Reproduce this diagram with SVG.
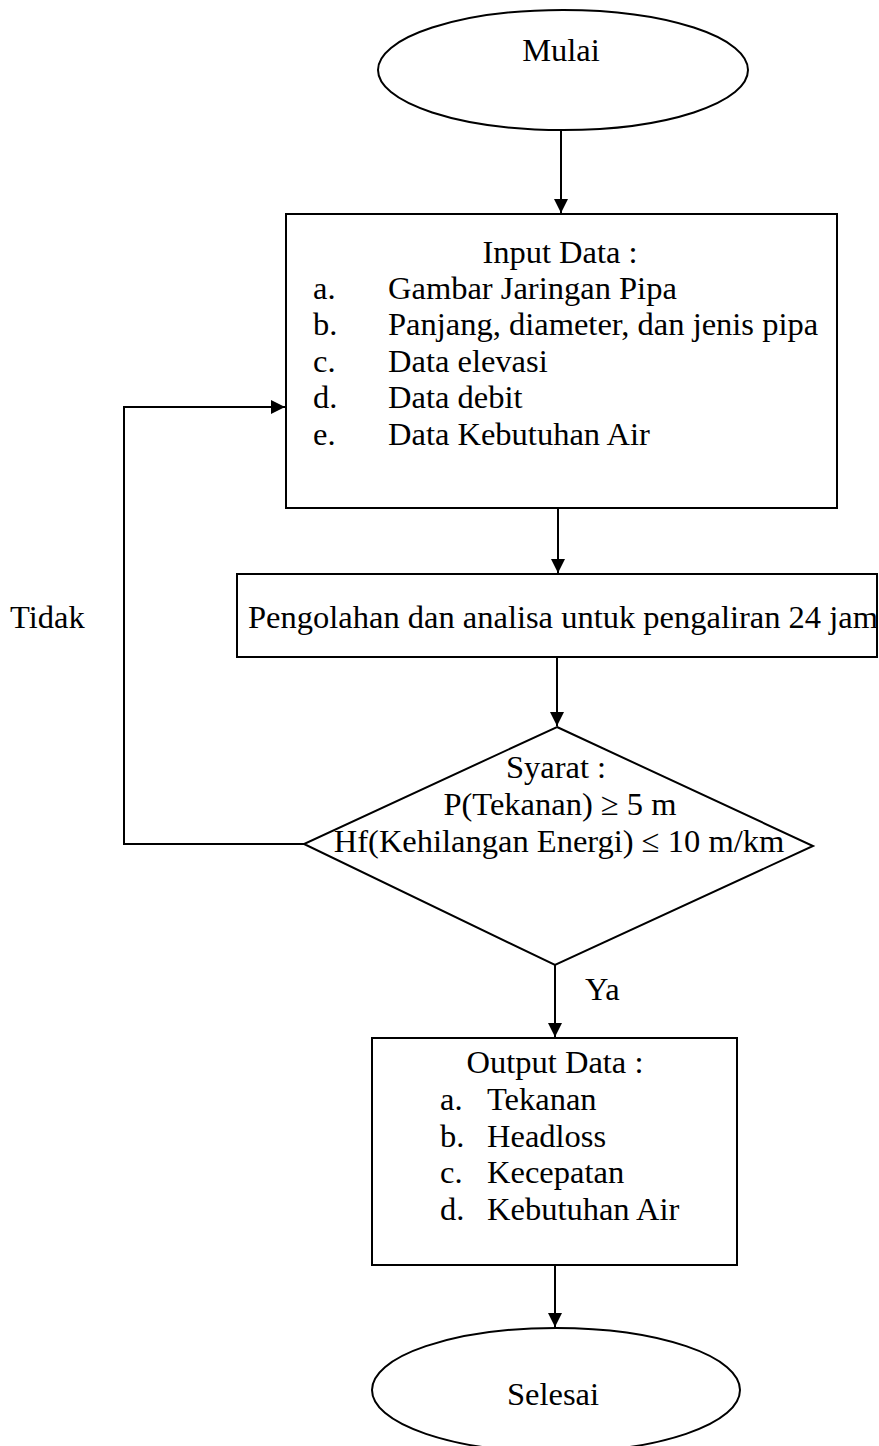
<svg xmlns="http://www.w3.org/2000/svg" width="879" height="1446" viewBox="0 0 879 1446">
  <style>
    .shape { fill: #ffffff; stroke: #000000; stroke-width: 2; }
    .line { fill: none; stroke: #000000; stroke-width: 2; }
    text { font-family: "Liberation Serif", "Times New Roman", serif; font-size: 32.5px; fill: #000000; }
    .mid { text-anchor: middle; }
  </style>
  <defs>
    <marker id="arrow" markerUnits="userSpaceOnUse" markerWidth="14" markerHeight="18" viewBox="0 0 14 18" refX="14" refY="7" orient="auto">
      <path d="M0,0 L14,7 L0,14 Z" fill="#000000"/>
    </marker>
  </defs>
  <rect width="879" height="1446" fill="#ffffff"/>

  <!-- connectors -->
  <g id="connectors">
    <line class="line" x1="561" y1="130" x2="561" y2="213" marker-end="url(#arrow)"/>
    <line class="line" x1="558" y1="508" x2="558" y2="573" marker-end="url(#arrow)"/>
    <line class="line" x1="557" y1="657" x2="557" y2="726" marker-end="url(#arrow)"/>
    <line class="line" x1="555" y1="965" x2="555" y2="1037" marker-end="url(#arrow)"/>
    <line class="line" x1="555" y1="1265" x2="555" y2="1327" marker-end="url(#arrow)"/>
    <polyline class="line" points="304,844 124,844 124,407 285,407" marker-end="url(#arrow)"/>
    <text x="10" y="628">Tidak</text>
    <text x="585" y="1000">Ya</text>
  </g>

  <!-- start -->
  <g id="start">
    <ellipse class="shape" cx="563" cy="70" rx="185" ry="60"/>
    <text class="mid" x="561" y="61">Mulai</text>
  </g>

  <!-- input data -->
  <g id="input">
    <rect class="shape" x="286" y="214" width="551" height="294"/>
    <text class="mid" x="560" y="263">Input Data :</text>
    <text x="313" y="299">a.</text><text x="388" y="299">Gambar Jaringan Pipa</text>
    <text x="313" y="335">b.</text><text x="388" y="335">Panjang, diameter, dan jenis pipa</text>
    <text x="313" y="372">c.</text><text x="388" y="372">Data elevasi</text>
    <text x="313" y="408">d.</text><text x="388" y="408">Data debit</text>
    <text x="313" y="445">e.</text><text x="388" y="445">Data Kebutuhan Air</text>
  </g>

  <!-- processing -->
  <g id="process">
    <rect class="shape" x="237" y="574" width="640" height="83"/>
    <text x="248" y="628">Pengolahan dan analisa untuk pengaliran 24 jam</text>
  </g>

  <!-- decision -->
  <g id="decision">
    <polygon class="shape" points="557,727 813,846 555,965 304,844"/>
    <text class="mid" x="556" y="778">Syarat :</text>
    <text class="mid" x="560" y="815">P(Tekanan) ≥ 5 m</text>
    <text class="mid" x="559" y="852">Hf(Kehilangan Energi) ≤ 10 m/km</text>
  </g>

  <!-- output data -->
  <g id="output">
    <rect class="shape" x="372" y="1038" width="365" height="227"/>
    <text class="mid" x="555" y="1073">Output Data :</text>
    <text x="440" y="1110">a.</text><text x="487" y="1110">Tekanan</text>
    <text x="440" y="1147">b.</text><text x="487" y="1147">Headloss</text>
    <text x="440" y="1183">c.</text><text x="487" y="1183">Kecepatan</text>
    <text x="440" y="1220">d.</text><text x="487" y="1220">Kebutuhan Air</text>
  </g>

  <!-- end -->
  <g id="end">
    <ellipse class="shape" cx="556" cy="1390" rx="184" ry="62"/>
    <text class="mid" x="553" y="1405">Selesai</text>
  </g>
</svg>
